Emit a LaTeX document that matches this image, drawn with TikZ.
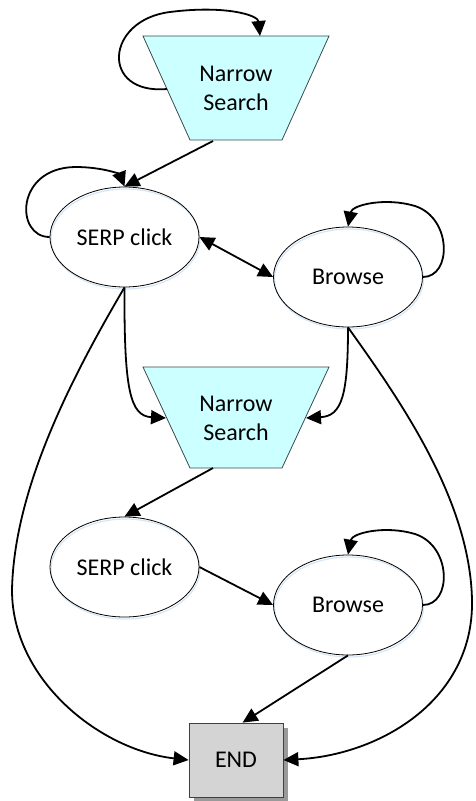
\documentclass[tikz,border=0pt]{standalone}
\usepackage{fontspec}
\setmainfont{Carlito}
\usetikzlibrary{arrows.meta,shapes.geometric,calc,shadows}
\definecolor{trapcol}{HTML}{CCFFFF}
\definecolor{trapedge}{HTML}{3A4A4A}
\definecolor{endgray}{HTML}{D4D4D4}
\definecolor{shadowgray}{HTML}{9A9A9A}
\definecolor{glow}{HTML}{D6E6F5}
\begin{document}
\begin{tikzpicture}[x=1pt,y=-1pt,
  every node/.style={font=\fontsize{24}{29}\selectfont},
  state/.style={ellipse,draw,line width=0.8pt,minimum width=149pt,minimum height=100pt,inner sep=0pt,
    preaction={draw=glow,line width=1.2pt,transform canvas={shift={(1pt,-2pt)}}}},
  conn/.style={line width=1.8pt,-{Triangle[length=15pt,width=14pt]}},
  dconn/.style={line width=1.8pt,{Triangle[length=15pt,width=14pt]}-{Triangle[length=15pt,width=14pt]}},
  trapfill/.style={fill=trapcol,draw=trapedge,line width=0.8pt},
  endbox/.style={draw=black!75,fill=endgray,line width=0.8pt,minimum width=94pt,minimum height=74pt,
    drop shadow={shadow xshift=5pt,shadow yshift=-5pt,fill=shadowgray,opacity=1}},
  ]
\useasboundingbox (0,0) rectangle (475,801);

% trapezoid 1
\coordinate (t1) at (236,88);
\draw[trapfill] ($(t1)+(-93,-52)$) -- ($(t1)+(93,-52)$) -- ($(t1)+(46,52)$) -- ($(t1)+(-46,52)$) -- cycle;
\node[align=center] (ns1) at (t1) {Narrow\\Search};
\coordinate (ns1l) at (167,89);
\coordinate (ns1t) at (260,36);
\coordinate (ns1b) at (213,141);

% trapezoid 2
\coordinate (t2) at (236,418);
\draw[trapfill] ($(t2)+(-93,-51)$) -- ($(t2)+(93,-51)$) -- ($(t2)+(46,50)$) -- ($(t2)+(-46,50)$) -- cycle;
\node[align=center] (ns2) at (t2) {Narrow\\Search};
\coordinate (ns2l) at (166,418);
\coordinate (ns2r) at (306,418);
\coordinate (ns2b) at (213,468);

% states
\node[state] (s1) at (124.5,237) {SERP click};
\node[state] (b1) at (348,277) {Browse};
\node[state] (s2) at (124.5,567) {SERP click};
\node[state] (b2) at (348,605) {Browse};
\node[endbox] (e) at (236,760) {END};

% connectors
\draw[conn] (ns1l) .. controls (100,95) and (105,20) .. (170,12) .. controls (225,5) and (258,15) .. (ns1t);
\draw[conn] (ns1b) -- (s1.north);
\draw[conn] (s1.west) .. controls (15,237) and (15,168) .. (75,167) .. controls (105,167) and (120,175) .. (s1.north);
\draw[dconn] (s1.east) -- (b1.west);
\draw[conn] (b1.east) .. controls (452,277) and (452,218) .. (415,206) .. controls (385,197) and (352,205) .. (b1.north);
\draw[conn] (s1.south) .. controls (124,390) and (130,416) .. (ns2l);
\draw[conn] (b1.south) .. controls (348,395) and (342,416) .. (ns2r);
\draw[conn] (s1.south) .. controls (70,380) and (14,490) .. (12,590) .. controls (12,680) and (100,750) .. (e.west);
\draw[conn] (b1.south) .. controls (400,400) and (470,500) .. (472,600) .. controls (474,700) and (380,755) .. (e.east);
\draw[conn] (ns2b) -- (s2.north);
\draw[conn] (s2.east) -- (b2.west);
\draw[conn] (b2.east) .. controls (452,605) and (452,546) .. (415,534) .. controls (385,525) and (352,533) .. (b2.north);
\draw[conn] (b2.south) -- (e.80);
\end{tikzpicture}
\end{document}
